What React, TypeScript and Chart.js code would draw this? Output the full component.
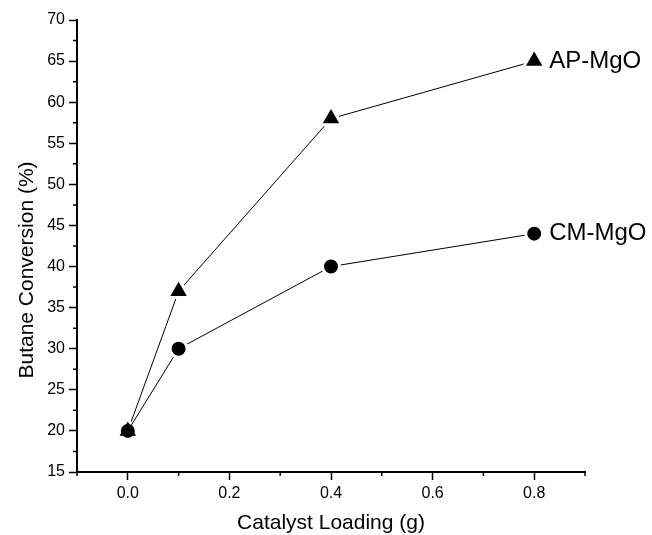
import React, { useEffect, useRef } from "react";
import { Chart, registerables } from "chart.js";

Chart.register(...registerables);

const loadings = [0, 0.1, 0.4, 0.8];
const apMgO = [20, 37, 58, 65];
const cmMgO = [20, 30, 40, 44];
const seriesNames = ["AP-MgO", "CM-MgO"];
const xTickValues = [0, 0.2, 0.4, 0.6, 0.8];
const xTickLabels = ["0.0", "0.2", "0.4", "0.6", "0.8"];
const yTickValues = [15, 20, 25, 30, 35, 40, 45, 50, 55, 60, 65, 70];
const yTickLabels = ["15", "20", "25", "30", "35", "40", "45", "50", "55", "60", "65", "70"];
const xTitle = "Catalyst Loading (g)";
const yTitle = "Butane Conversion (%)";

const FONT = "'Liberation Sans', Arial, Helvetica, sans-serif";

const minorTicks = {
  id: "minorTicks",
  afterDraw(chart: any) {
    const ctx = chart.ctx;
    const x = chart.scales.x;
    const y = chart.scales.y;
    ctx.save();
    ctx.strokeStyle = "#000";
    ctx.lineWidth = 1.5;
    ctx.beginPath();
    for (let i = 0; i < xTickValues.length; i++) {
      for (const v of [xTickValues[i] - 0.1, xTickValues[i] + 0.1]) {
        if (v < x.min - 1e-9 || v > x.max + 1e-9) continue;
        const px = x.getPixelForValue(v);
        ctx.moveTo(px, x.top);
        ctx.lineTo(px, x.top + 4);
      }
    }
    for (let i = 0; i < yTickValues.length - 1; i++) {
      const v = (yTickValues[i] + yTickValues[i + 1]) / 2;
      const py = y.getPixelForValue(v);
      ctx.moveTo(y.right, py);
      ctx.lineTo(y.right - 4, py);
    }
    ctx.stroke();
    ctx.font = `21px ${FONT}`;
    ctx.fillStyle = "#000";
    ctx.textAlign = "center";
    ctx.textBaseline = "middle";
    ctx.translate(27, (chart.chartArea.top + chart.chartArea.bottom) / 2 + 24);
    ctx.rotate(-Math.PI / 2);
    ctx.fillText(yTitle, 0, 0);
    ctx.restore();
  },
};

const seriesLabels = {
  id: "seriesLabels",
  afterDatasetsDraw(chart: any) {
    const ctx = chart.ctx;
    ctx.save();
    ctx.font = `24px ${FONT}`;
    ctx.fillStyle = "#000";
    ctx.textBaseline = "middle";
    ctx.textAlign = "left";
    chart.data.datasets.forEach((ds: any, i: number) => {
      const meta = chart.getDatasetMeta(i);
      const last = meta.data[meta.data.length - 1];
      ctx.fillText(seriesNames[i], last.x + 15, last.y);
    });
    ctx.restore();
  },
};

export default function App() {
  const ref = useRef<HTMLCanvasElement>(null);
  useEffect(() => {
    if (!ref.current) return;
    const mk = (vals: number[]) => loadings.map((x, i) => ({ x, y: vals[i] }));
    const chart = new Chart(ref.current, {
      type: "line",
      data: {
        datasets: [
          {
            label: seriesNames[0],
            data: mk(apMgO),
            order: 1,
            borderColor: "#000",
            borderWidth: 1,
            pointStyle: "triangle",
            pointRadius: 12.5,
            pointBackgroundColor: "#000",
            pointBorderColor: "#fff",
            pointBorderWidth: 3,
            pointHoverRadius: 12.5,
          },
          {
            label: seriesNames[1],
            data: mk(cmMgO),
            order: 0,
            borderColor: "#000",
            borderWidth: 1,
            pointStyle: "circle",
            pointRadius: (c: any) => (c.dataIndex === 0 ? 7 : 8.5),
            pointBackgroundColor: "#000",
            pointBorderColor: (c: any) => (c.dataIndex === 0 ? "#000" : "#fff"),
            pointBorderWidth: (c: any) => (c.dataIndex === 0 ? 0 : 3),
            pointHoverRadius: 8.5,
          },
        ],
      },
      options: {
        animation: false,
        responsive: true,
        maintainAspectRatio: false,
        layout: { padding: { top: 20, right: 67, bottom: 0, left: 0 } },
        plugins: { legend: { display: false }, tooltip: { enabled: false } },
        scales: {
          x: {
            type: "linear",
            min: -0.1,
            max: 0.9,
            afterFit: (s: any) => { s.height = 63; },
            afterBuildTicks: (s: any) => { s.ticks = xTickValues.map((v) => ({ value: v })); },
            ticks: {
              padding: 4,
              color: "#000",
              font: { family: FONT, size: 16 },
              callback: (v: any) => {
                const idx = xTickValues.findIndex((t) => Math.abs(t - Number(v)) < 1e-6);
                return idx >= 0 ? xTickLabels[idx] : "";
              },
            },
            grid: { drawOnChartArea: false, drawTicks: true, tickLength: 8, tickColor: "#000", tickWidth: 1.5 },
            border: { display: true, color: "#000", width: 2 },
            title: {
              display: true,
              text: xTitle,
              color: "#000",
              font: { family: FONT, size: 21, lineHeight: 1.1 },
              padding: { top: 0, bottom: 0 },
            },
          },
          y: {
            type: "linear",
            min: 15,
            max: 70,
            afterFit: (s: any) => { s.width = 77; },
            afterBuildTicks: (s: any) => { s.ticks = yTickValues.map((v) => ({ value: v })); },
            ticks: {
              padding: 4,
              color: "#000",
              font: { family: FONT, size: 16 },
              callback: (v: any) => {
                const idx = yTickValues.findIndex((t) => Math.abs(t - Number(v)) < 1e-6);
                return idx >= 0 ? yTickLabels[idx] : "";
              },
            },
            grid: { drawOnChartArea: false, drawTicks: true, tickLength: 8, tickColor: "#000", tickWidth: 1.5 },
            border: { display: true, color: "#000", width: 2 },
            title: { display: false },
          },
        },
      },
      plugins: [minorTicks, seriesLabels],
    });
    return () => chart.destroy();
  }, []);
  return (
    <div style={{ position: "fixed", left: 0, top: 0, width: 652, height: 535, background: "#fff" }}>
      <canvas ref={ref} />
    </div>
  );
}
